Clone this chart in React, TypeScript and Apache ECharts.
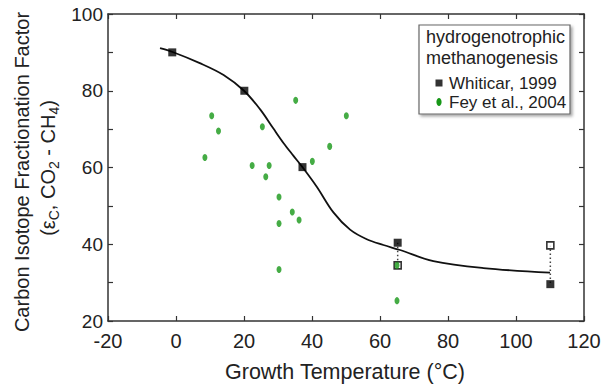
import React, { useEffect, useRef } from "react";
import * as echarts from "echarts";

// Whiticar, 1999 (filled squares)
const whiticarX = [-1.1, 20.1, 37.2, 65.2, 110.1];
const whiticarY = [90.0, 80.0, 60.1, 40.4, 29.6];
// Whiticar, 1999 (open squares)
const whiticarOpenX = [65.2, 110.1];
const whiticarOpenY = [34.5, 39.7];
// Fey et al., 2004
const feyX = [10.5, 12.5, 8.5, 25.4, 22.4, 27.4, 26.4, 35.2, 50.1, 45.2, 40.1, 30.3, 34.2, 36.2, 30.3, 30.3, 65.0, 65.0];
const feyY = [73.5, 69.5, 62.6, 70.6, 60.5, 60.5, 57.6, 77.5, 73.5, 65.5, 61.6, 52.3, 48.4, 46.3, 45.4, 33.4, 34.5, 25.3];
// fitted curve
const curveX = [-4.7, -1, 7, 14, 20, 24.7, 28.6, 31.6, 34.5, 37.2, 41.4, 46.3, 51.2, 56.1, 61, 65.9, 75.7, 90.4, 110];
const curveY = [91.1, 90.1, 87.2, 84.1, 80.0, 75.2, 70.2, 66.4, 63.1, 60.1, 55.0, 48.3, 43.8, 41.3, 39.8, 38.5, 35.6, 33.8, 32.6];
// dotted connectors (pairs of x, y)
const linkA = [[65.2, 40.4], [65.2, 34.5]];
const linkB = [[110.1, 39.7], [110.1, 29.6]];

const xTicks = { min: -20, max: 120, interval: 20 };
const yTicks = { min: 20, max: 100, interval: 10 };

const TXT = "#222";
const AX = "#333";
const FONT = "'Liberation Sans', Arial, Helvetica, sans-serif";

export default function App() {
  const ref = useRef<HTMLDivElement>(null);
  useEffect(() => {
    if (!ref.current) return;
    const chart = echarts.init(ref.current, null, { renderer: "svg" });
    const zip = (a: number[], b: number[]) => a.map((v, i) => [v, b[i]]);
    const axisLine = { show: true, onZero: false, lineStyle: { color: AX, width: 1.5 } };
    const tick = { show: true, inside: true, length: 5, lineStyle: { color: AX, width: 1.2 } };
    chart.setOption({
      animation: false,
      textStyle: { fontFamily: FONT },
      grid: { left: 108, right: 24, top: 14, bottom: 66 },
      xAxis: [
        {
          type: "value", ...xTicks, position: "bottom",
          axisLine, axisTick: tick, splitLine: { show: false },
          axisLabel: { color: TXT, fontSize: 20, margin: 10, fontFamily: FONT },
        },
        {
          type: "value", ...xTicks, position: "top",
          axisLine, axisTick: tick, splitLine: { show: false },
          axisLabel: { show: false },
        },
      ],
      yAxis: [
        {
          type: "value", ...yTicks, position: "left",
          axisLine, axisTick: tick, splitLine: { show: false },
          axisLabel: {
            color: TXT, fontSize: 19, margin: 5, fontFamily: FONT,
            formatter: (v: number) => (v % 20 === 0 ? String(v) : ""),
          },
        },
        {
          type: "value", ...yTicks, position: "right",
          axisLine, axisTick: tick, splitLine: { show: false },
          axisLabel: { show: false },
        },
      ],
      series: [
        {
          type: "line", data: zip(curveX, curveY), smooth: 0.35, symbol: "none",
          lineStyle: { color: "#111", width: 1.8 }, z: 2,
        },
        {
          type: "line", data: linkA, symbol: "none",
          lineStyle: { color: "#444", width: 1.5, type: [1.5, 2.5] }, z: 2,
        },
        {
          type: "line", data: linkB, symbol: "none",
          lineStyle: { color: "#444", width: 1.5, type: [1.5, 2.5] }, z: 2,
        },
        {
          type: "scatter", data: zip(whiticarX, whiticarY), symbol: "rect", symbolSize: 8,
          itemStyle: { color: "#000" }, z: 3,
        },
        {
          type: "scatter", data: zip(whiticarOpenX, whiticarOpenY), symbol: "rect", symbolSize: 7,
          itemStyle: { color: "#fff", borderColor: "#000", borderWidth: 1.6 }, z: 3,
        },
        {
          type: "scatter", data: zip(feyX, feyY), symbol: "circle", symbolSize: [5, 7],
          itemStyle: { color: "#179717" }, z: 4,
        },
      ],
      graphic: [
        {
          type: "text", x: 22, y: 172, rotation: Math.PI / 2,
          style: {
            text: "Carbon Isotope Fractionation Factor", fill: TXT,
            font: `20px ${FONT}`, align: "center", verticalAlign: "middle",
          },
        },
        {
          type: "text", x: 48, y: 168, rotation: Math.PI / 2,
          style: {
            text: "(ε{s|C}, CO{s|2} - CH{s|4})", fill: TXT,
            font: `20px ${FONT}`, align: "center", verticalAlign: "middle",
            lineHeight: 26,
            rich: {
              s: { fontSize: 14, fontFamily: FONT, fill: TXT, verticalAlign: "bottom", lineHeight: 14 },
            },
          },
        },
        {
          type: "text", x: 345, y: 372,
          style: {
            text: "Growth Temperature (°C)", fill: TXT,
            font: `21.5px ${FONT}`, align: "center", verticalAlign: "middle",
          },
        },
        {
          type: "rect", shape: { x: 419, y: 25, width: 151, height: 89 },
          style: {
            fill: "#fff", stroke: "#666", lineWidth: 1.2,
            shadowBlur: 3, shadowOffsetX: 2, shadowOffsetY: 2, shadowColor: "rgba(0,0,0,0.35)",
          },
          z: 10,
        },
        {
          type: "text", x: 426, y: 37, z: 11,
          style: { text: "hydrogenotrophic", fill: TXT, font: `18px ${FONT}`, verticalAlign: "middle" },
        },
        {
          type: "text", x: 426, y: 58, z: 11,
          style: { text: "methanogenesis", fill: TXT, font: `18px ${FONT}`, verticalAlign: "middle" },
        },
        {
          type: "rect", shape: { x: 435.5, y: 79.5, width: 7, height: 7 }, z: 11,
          style: { fill: "#333" },
        },
        {
          type: "text", x: 449, y: 83, z: 11,
          style: { text: "Whiticar, 1999", fill: TXT, font: `17px ${FONT}`, verticalAlign: "middle" },
        },
        {
          type: "ellipse", shape: { cx: 439, cy: 102, rx: 2.6, ry: 4 }, z: 11,
          style: { fill: "#179717" },
        },
        {
          type: "text", x: 449, y: 102, z: 11,
          style: { text: "Fey et al., 2004", fill: TXT, font: `17px ${FONT}`, verticalAlign: "middle" },
        },
      ],
    });
    return () => chart.dispose();
  }, []);
  return <div ref={ref} style={{ width: 608, height: 387, position: "absolute", left: 0, top: 0 }} />;
}
